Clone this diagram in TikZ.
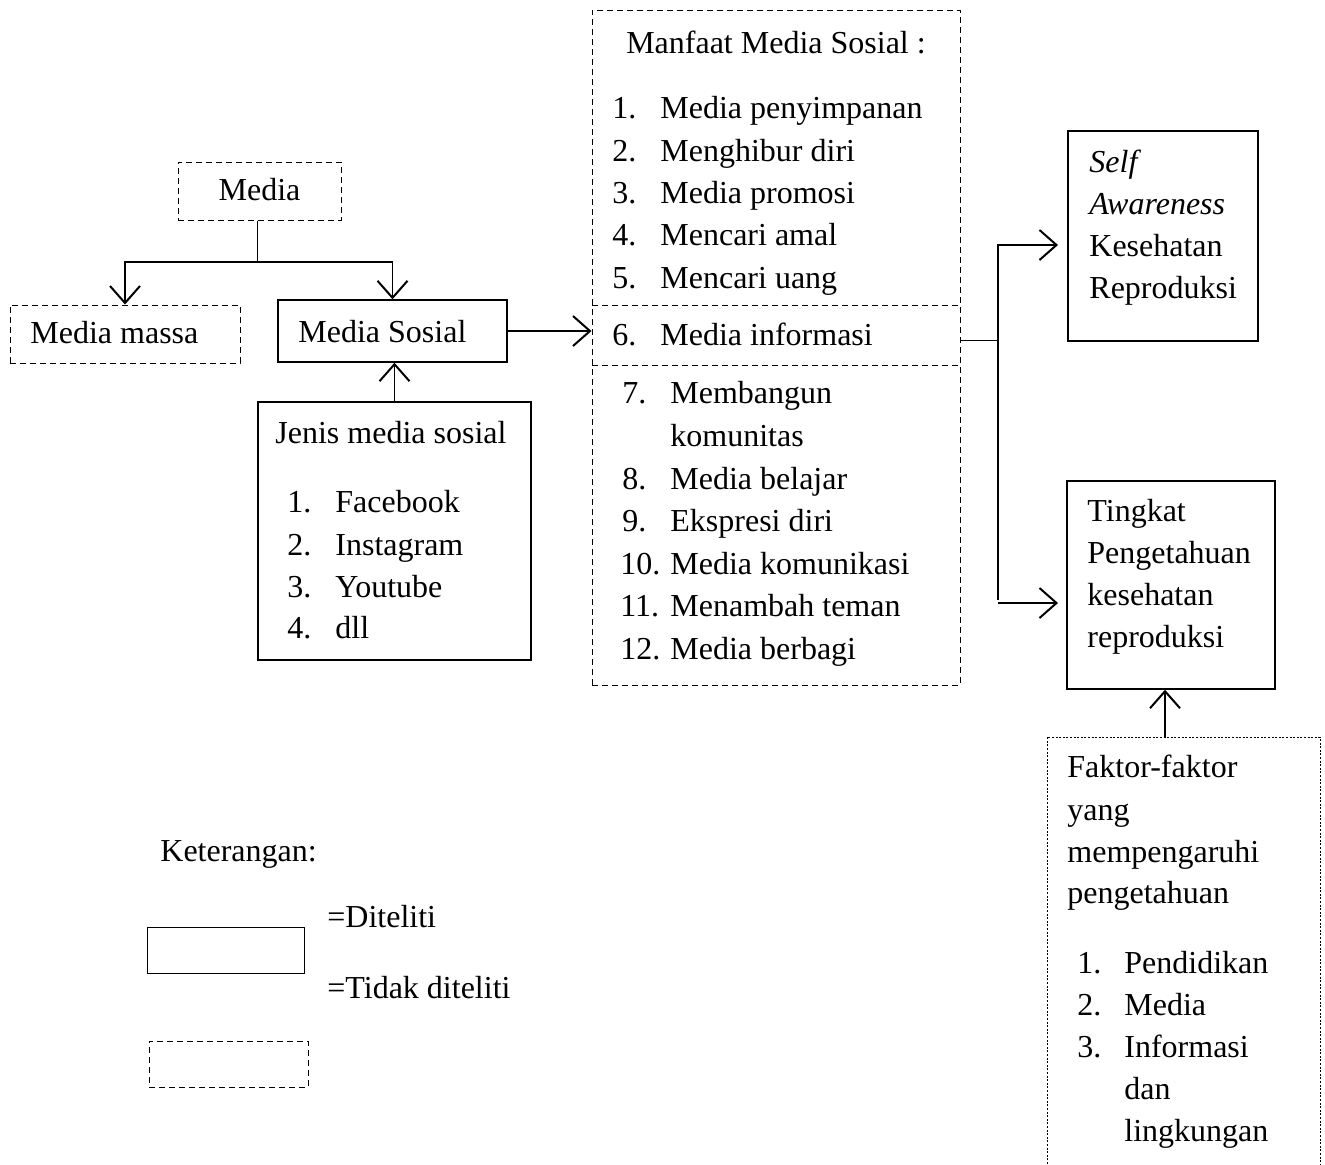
\documentclass[tikz,border=0pt]{standalone}
\usepackage{fontspec}
\setmainfont{Liberation Serif}
\usetikzlibrary{arrows.meta}

\tikzset{
  box/.style={draw, line width=0.7pt, rectangle, inner sep=0pt},
  dbox/.style={draw, line width=0.5pt, rectangle, inner sep=0pt, dash pattern=on 3pt off 2pt},
  txt/.style={anchor=base west, inner sep=0pt, font=\fontsize{16}{21}\selectfont},
  arr/.style={line width=0.9pt, -{Straight Barb[length=8.5pt,width=15pt,line width=1pt]}},
  ln/.style={line width=0.5pt}
}

\begin{document}
\begin{tikzpicture}[x=0.5pt,y=-0.5pt]
  \useasboundingbox (0,0) rectangle (1325,1164);

  % boxes
  \node[dbox, minimum width=81.5pt, minimum height=29pt] (media) at (259.5,191) {};
  \node[dbox, minimum width=115pt, minimum height=29pt] (massa) at (125,334) {};
  \node[box, minimum width=114.5pt, minimum height=31pt] (sosial) at (392.5,331) {};
  \node[box, minimum width=136.5pt, minimum height=129pt] (jenis) at (394.5,531) {};
  \node[dbox, minimum width=184pt, minimum height=147.5pt] (mtop) at (776,157.5) {};
  \node[dbox, minimum width=184pt, minimum height=30pt] (info) at (776,335) {};
  \node[dbox, minimum width=184pt, minimum height=160pt] (mbot) at (776,525) {};
  \node[box, minimum width=95pt, minimum height=105pt] (self) at (1163,236) {};
  \node[box, minimum width=104pt, minimum height=104pt] (tingkat) at (1171,585) {};
  \draw[line width=0.5pt, dash pattern=on 1pt off 0.8pt] (1047,1164) -- (1047,737) -- (1320,737) -- (1320,1164);
  \coordinate (faktor) at (1165,737);

  % texts
  \node[txt, anchor=base] (tmedia) at (259.5,200) {Media};
  \node[txt] (tmassa) at (30,343) {Media massa};
  \node[txt] (tsosial) at (298,342) {Media Sosial};
  \node[txt] (tjenis) at (275,443) {Jenis media sosial};
  \foreach \n/\t/\y in {1/Facebook/512, 2/Instagram/555, 3/Youtube/597, 4/dll/638}
    \node[txt] (j\n) at (287,\y) {\n.}
      node[txt] at (335,\y) {\t};

  \node[txt, anchor=base] (tmanfaat) at (776,53) {Manfaat Media Sosial :};
  \foreach \n/\t/\y in {1/Media penyimpanan/118, 2/Menghibur diri/161, 3/Media promosi/203,
      4/Mencari amal/245, 5/Mencari uang/288, 6/Media informasi/345}
    \node[txt] (m\n) at (612,\y) {\n.}
      node[txt] at (660,\y) {\t};
  \foreach \n/\t/\y in {7/Membangun/403, 8/Media belajar/489, 9/Ekspresi diri/531}
    \node[txt] (m\n) at (622,\y) {\n.}
      node[txt] at (670,\y) {\t};
  \node[txt] (m7b) at (670,446) {komunitas};
  \foreach \n/\t/\y in {10/Media komunikasi/574, 11/Menambah teman/616, 12/Media berbagi/659}
    \node[txt] (m\n) at (620,\y) {\n.}
      node[txt] at (670,\y) {\t};

  \node[txt] (s1) at (1089,172) {\itshape Self};
  \node[txt] (s2) at (1089,214) {\itshape Awareness};
  \node[txt] (s3) at (1089,256) {Kesehatan};
  \node[txt] (s4) at (1089,298) {Reproduksi};

  \node[txt] (t1) at (1087,521) {Tingkat};
  \node[txt] (t2) at (1087,563) {Pengetahuan};
  \node[txt] (t3) at (1087,605) {kesehatan};
  \node[txt] (t4) at (1087,647) {reproduksi};

  \node[txt] (f1) at (1067,777) {Faktor-faktor};
  \node[txt] (f2) at (1067,820) {yang};
  \node[txt] (f3) at (1067,862) {mempengaruhi};
  \node[txt] (f4) at (1067,903) {pengetahuan};
  \foreach \n/\t/\y in {1/Pendidikan/973, 2/Media/1015, 3/Informasi/1057}
    \node[txt] (k\n) at (1077,\y) {\n.}
      node[txt] at (1124,\y) {\t};
  \node[txt] (k3b) at (1124,1099) {dan};
  \node[txt] (k3c) at (1124,1141) {lingkungan};

  % keterangan
  \node[txt] (ket) at (160,861) {Keterangan:};
  \node[box, line width=0.5pt, minimum width=78.5pt, minimum height=23pt] (ld) at (225.5,950) {};
  \node[dbox, minimum width=79.5pt, minimum height=23pt] (lt) at (228.5,1064) {};
  \node[txt] (ldt) at (327,927) {=Diteliti};
  \node[txt] (ltt) at (327,998) {=Tidak diteliti};

  % connectors
  \coordinate (sp) at (257,262);
  \draw[ln] (sp |- media.south) -- (sp);
  \draw[arr] (sp) -| (massa.north);
  \draw[arr] (sp) -| (sosial.north);
  \draw[arr] (jenis.north) -- (sosial.south -| jenis.north);
  \draw[arr] (sosial.east) -- (info.west |- sosial.east);

  \coordinate (br) at (998,340);
  \coordinate (up) at (998,245);
  \coordinate (dn) at (998,600);
  \coordinate (selfin) at (1058,245);
  \coordinate (tgkin) at (1058,603);
  \draw[ln] (info.east |- br) -- (br);
  \draw[arr] (dn) -- (up) -- (selfin);
  \draw[arr] (998,603) -- (tgkin);
  \draw[arr] (faktor) -- (faktor |- tingkat.south);
\end{tikzpicture}
\end{document}
